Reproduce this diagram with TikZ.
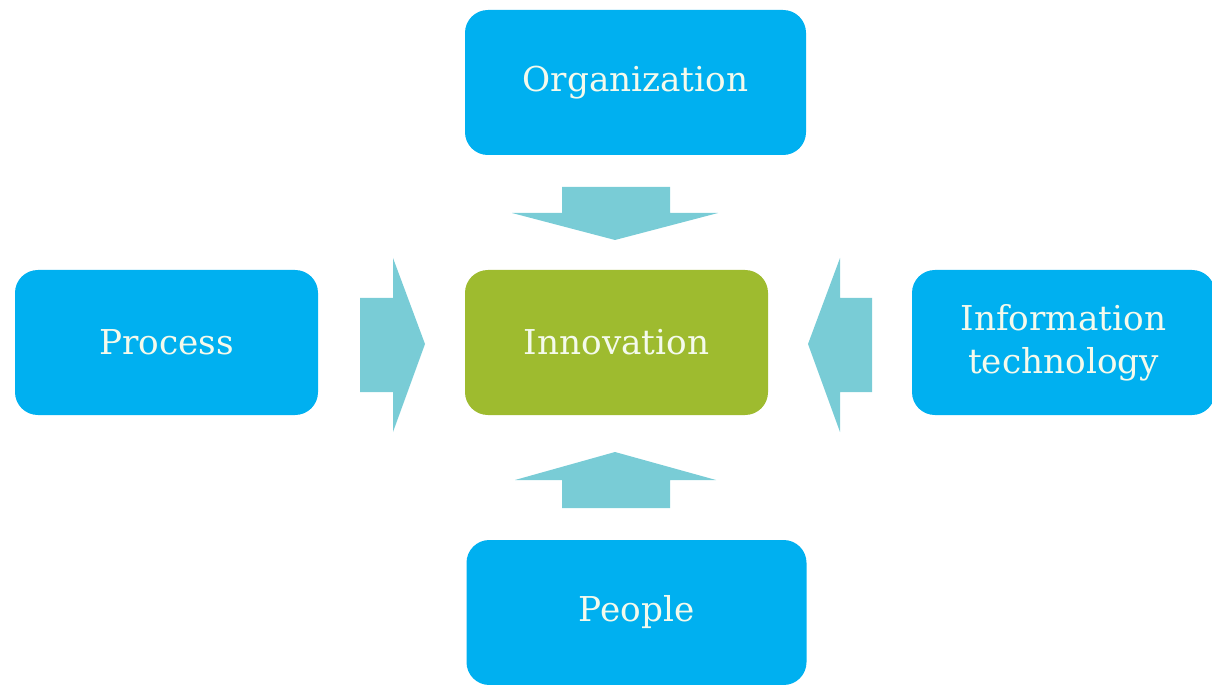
\documentclass[tikz,border=0pt]{standalone}
\usepackage{fontspec}
\setmainfont{DejaVu Serif}
\definecolor{boxblue}{HTML}{00B0F0}
\definecolor{boxgreen}{HTML}{9EBB2F}
\definecolor{arrowteal}{HTML}{79CCD6}
\definecolor{txt}{HTML}{F4FAEC}
\begin{document}
\begin{tikzpicture}[x=0.02cm,y=-0.02cm,
  box/.style={rounded corners=13pt, minimum height=145*0.02cm, text=txt,
    font=\fontsize{19.5}{24.5}\selectfont, align=center, inner sep=0pt},
  bluebox/.style={box, fill=boxblue},
  greenbox/.style={box, fill=boxgreen},
  blockarrow/.style={fill=arrowteal}]
\useasboundingbox (0,0) rectangle (1212,685);
\node[bluebox, minimum width=341*0.02cm] (org) at (635.5,82.5) {Organization};
\node[greenbox, minimum width=303*0.02cm] (inn) at (616.5,342.5) {Innovation};
\node[bluebox, minimum width=303*0.02cm] (proc) at (166.5,342.5) {Process};
\node[bluebox, minimum width=303*0.02cm] (it) at (1063.5,342.5) {Information\\technology};
\node[bluebox, minimum width=340*0.02cm] (ppl) at (636.5,612.5) {People};
% top arrow
\fill[blockarrow] (562,187) -- (670,187) -- (670,213) -- (718,213) -- (615,240)
  -- (512,213) -- (562,213) -- cycle;
% bottom arrow
\fill[blockarrow] (562,508) -- (670,508) -- (670,480) -- (716,480) -- (615,452)
  -- (515,480) -- (562,480) -- cycle;
% left arrow
\fill[blockarrow] (360,298) -- (393,298) -- (393,258) -- (425,344) -- (393,432)
  -- (393,392) -- (360,392) -- cycle;
% right arrow
\fill[blockarrow] (872,298) -- (840,298) -- (840,258) -- (808,344) -- (840,432)
  -- (840,392) -- (872,392) -- cycle;
\end{tikzpicture}
\end{document}
